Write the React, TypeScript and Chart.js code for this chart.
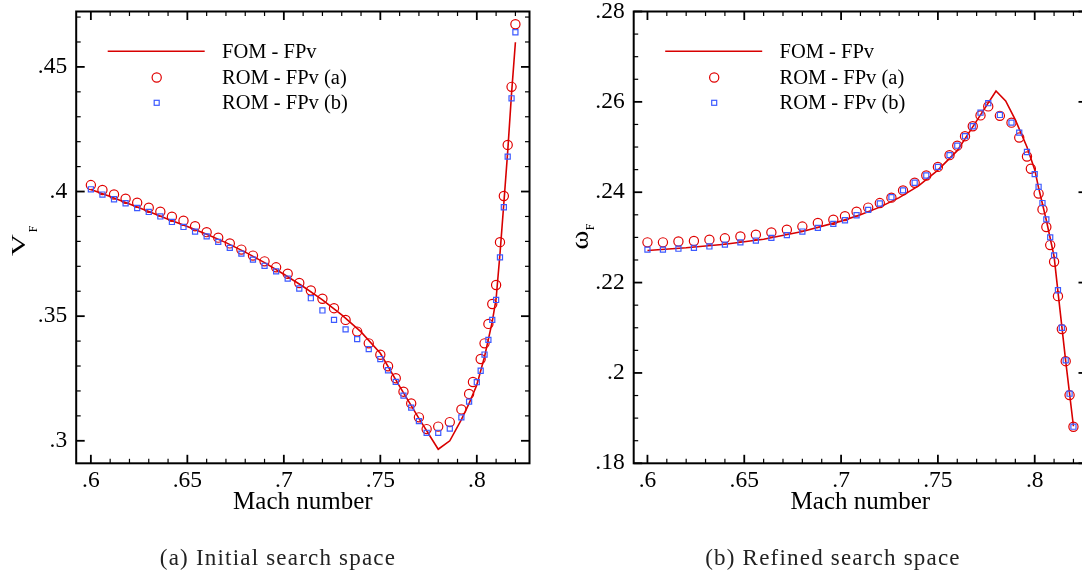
import React, { useEffect, useRef } from 'react';
import { Chart, registerables } from 'chart.js';

Chart.register(...registerables);

const FONT = '"Liberation Serif", "Times New Roman", serif';

// ---------- Panel (a): initial search space ----------
const machA_romA = [0.600, 0.606, 0.612, 0.618, 0.624, 0.630, 0.636, 0.642, 0.648, 0.654, 0.660, 0.666, 0.672, 0.678, 0.684, 0.690, 0.696, 0.702, 0.708, 0.714, 0.720, 0.726, 0.732, 0.738, 0.744, 0.750, 0.754, 0.758, 0.762, 0.766, 0.770, 0.774, 0.780, 0.786, 0.792, 0.796, 0.798, 0.802, 0.804, 0.806, 0.808, 0.810, 0.812, 0.814, 0.816, 0.818, 0.820];
const vfA_romA = [0.4026, 0.4006, 0.3988, 0.3971, 0.3955, 0.3935, 0.3919, 0.3899, 0.3883, 0.3861, 0.3837, 0.3815, 0.3792, 0.3767, 0.3743, 0.3720, 0.3696, 0.3670, 0.3633, 0.3603, 0.3570, 0.3532, 0.3485, 0.3438, 0.3391, 0.3345, 0.3299, 0.3251, 0.3197, 0.3150, 0.3094, 0.3047, 0.3057, 0.3075, 0.3126, 0.3188, 0.3236, 0.3328, 0.3391, 0.3469, 0.3549, 0.3625, 0.3797, 0.3982, 0.4187, 0.4420, 0.4671];

const machA_romB = [0.600, 0.606, 0.612, 0.618, 0.624, 0.630, 0.636, 0.642, 0.648, 0.654, 0.660, 0.666, 0.672, 0.678, 0.684, 0.690, 0.696, 0.702, 0.708, 0.714, 0.720, 0.726, 0.732, 0.738, 0.744, 0.750, 0.754, 0.758, 0.762, 0.766, 0.770, 0.774, 0.780, 0.786, 0.792, 0.796, 0.800, 0.802, 0.804, 0.806, 0.808, 0.810, 0.812, 0.814, 0.816, 0.818, 0.820];
const vfA_romB = [0.4009, 0.3988, 0.3969, 0.3953, 0.3934, 0.3918, 0.3900, 0.3878, 0.3858, 0.3839, 0.3820, 0.3798, 0.3774, 0.3751, 0.3727, 0.3702, 0.3680, 0.3651, 0.3611, 0.3572, 0.3523, 0.3485, 0.3447, 0.3408, 0.3368, 0.3328, 0.3283, 0.3236, 0.3181, 0.3133, 0.3079, 0.3032, 0.3032, 0.3049, 0.3094, 0.3157, 0.3235, 0.3281, 0.3346, 0.3405, 0.3485, 0.3565, 0.3736, 0.3937, 0.4140, 0.4374, 0.4639];

const machA_fom = [0.600, 0.610, 0.620, 0.630, 0.640, 0.650, 0.660, 0.670, 0.680, 0.690, 0.700, 0.710, 0.720, 0.730, 0.740, 0.750, 0.760, 0.770, 0.780, 0.786, 0.792, 0.796, 0.800, 0.804, 0.808, 0.810, 0.812, 0.814, 0.816, 0.818, 0.820];
const vfA_fom = [0.4008, 0.3980, 0.3950, 0.3920, 0.3889, 0.3860, 0.3829, 0.3795, 0.3757, 0.3715, 0.3668, 0.3619, 0.3565, 0.3505, 0.3437, 0.3351, 0.3218, 0.3090, 0.2966, 0.3000, 0.3085, 0.3150, 0.3224, 0.3337, 0.3478, 0.3570, 0.3750, 0.3953, 0.4160, 0.4394, 0.4599];

// ---------- Panel (b): refined search space ----------
const machB_romA = [0.600, 0.608, 0.616, 0.624, 0.632, 0.640, 0.648, 0.656, 0.664, 0.672, 0.680, 0.688, 0.696, 0.702, 0.708, 0.714, 0.720, 0.726, 0.732, 0.738, 0.744, 0.750, 0.756, 0.760, 0.764, 0.768, 0.772, 0.776, 0.782, 0.788, 0.792, 0.796, 0.798, 0.802, 0.804, 0.806, 0.808, 0.810, 0.812, 0.814, 0.816, 0.818, 0.820];
const omegaB_romA = [0.2289, 0.2289, 0.2291, 0.2292, 0.2295, 0.2298, 0.2302, 0.2306, 0.2311, 0.2317, 0.2324, 0.2332, 0.2339, 0.2347, 0.2357, 0.2366, 0.2376, 0.2388, 0.2404, 0.2421, 0.2437, 0.2456, 0.2482, 0.2503, 0.2524, 0.2546, 0.2570, 0.2590, 0.2569, 0.2554, 0.2521, 0.2479, 0.2452, 0.2397, 0.2362, 0.2323, 0.2283, 0.2246, 0.2170, 0.2097, 0.2026, 0.1951, 0.1881];

const machB_romB = [0.600, 0.608, 0.616, 0.624, 0.632, 0.640, 0.648, 0.656, 0.664, 0.672, 0.680, 0.688, 0.696, 0.702, 0.708, 0.714, 0.720, 0.726, 0.732, 0.738, 0.744, 0.750, 0.756, 0.760, 0.764, 0.768, 0.772, 0.776, 0.782, 0.788, 0.792, 0.796, 0.800, 0.802, 0.804, 0.806, 0.808, 0.810, 0.812, 0.814, 0.816, 0.818, 0.820];
const omegaB_romB = [0.2273, 0.2273, 0.2275, 0.2277, 0.2280, 0.2284, 0.2289, 0.2293, 0.2299, 0.2305, 0.2313, 0.2321, 0.2330, 0.2338, 0.2349, 0.2361, 0.2375, 0.2389, 0.2404, 0.2421, 0.2437, 0.2456, 0.2482, 0.2503, 0.2524, 0.2546, 0.2576, 0.2597, 0.2571, 0.2554, 0.2532, 0.2489, 0.2440, 0.2412, 0.2376, 0.2340, 0.2300, 0.2260, 0.2183, 0.2100, 0.2028, 0.1954, 0.1881];

const machB_fom = [0.600, 0.620, 0.640, 0.660, 0.680, 0.700, 0.710, 0.720, 0.730, 0.740, 0.750, 0.760, 0.770, 0.780, 0.785, 0.790, 0.796, 0.800, 0.802, 0.806, 0.810, 0.812, 0.816, 0.820];
const omegaB_fom = [0.2271, 0.2277, 0.2285, 0.2296, 0.2313, 0.2336, 0.2350, 0.2367, 0.2388, 0.2414, 0.2449, 0.2492, 0.2558, 0.2624, 0.2602, 0.2560, 0.2500, 0.2450, 0.2410, 0.2338, 0.2258, 0.2180, 0.2026, 0.1882];

const seriesLabels = ['FOM - FPv', 'ROM - FPv (a)', 'ROM - FPv (b)'];
const xAxisTitle = 'Mach number';
const captions = ['(a) Initial search space', '(b) Refined search space'];

const LINE_RED = '#d80000';
const MARK_RED = '#e00000';
const MARK_BLUE = '#3c5aff';

const fmtTick = (v: number) => String(+Number(v).toFixed(3)).replace(/^0\./, '.').replace(/^-0\./, '-.');

const toPts = (xs: number[], ys: number[]) => xs.map((x, i) => ({ x, y: ys[i] }));

type PanelSpec = {
  canvasLeft: number;
  canvasWidth: number;
  areaLeft: number;
  areaRight: number;
  areaTop: number;
  areaBottom: number;
  xMin: number; xMax: number; xStep: number; xMinor: number;
  yMin: number; yMax: number; yStep: number; yMinor: number;
  fomX: number[]; fomY: number[];
  aX: number[]; aY: number[];
  bX: number[]; bY: number[];
};

const CANVAS_H = 573;
const CIRCLE_R = 4.6;

function makeFramePlugin(spec: PanelSpec) {
  return {
    id: 'frameTicks',
    afterDraw(chart: any) {
      const { ctx, chartArea } = chart;
      const { left, right, top, bottom } = chartArea;
      const xs = chart.scales.x;
      const ys = chart.scales.y;
      ctx.save();
      ctx.strokeStyle = '#000';
      const seg = (x1: number, y1: number, x2: number, y2: number) => {
        ctx.beginPath(); ctx.moveTo(x1, y1); ctx.lineTo(x2, y2); ctx.stroke();
      };
      const isMajor = (v: number, step: number) => Math.abs(v / step - Math.round(v / step)) < 1e-6;
      for (let k = Math.ceil(spec.xMin / spec.xMinor - 1e-9); k * spec.xMinor <= spec.xMax + 1e-9; k++) {
        const v = k * spec.xMinor;
        const major = isMajor(v, spec.xStep);
        const len = major ? 8.5 : 4.5;
        ctx.lineWidth = major ? 1.8 : 1.2;
        const px = xs.getPixelForValue(v);
        seg(px, bottom, px, bottom - len);
        seg(px, top, px, top + len);
      }
      for (let k = Math.ceil(spec.yMin / spec.yMinor - 1e-9); k * spec.yMinor <= spec.yMax + 1e-9; k++) {
        const v = k * spec.yMinor;
        const major = isMajor(v, spec.yStep);
        const len = major ? 8.5 : 4.5;
        ctx.lineWidth = major ? 1.8 : 1.2;
        const py = ys.getPixelForValue(v);
        seg(left, py, left + len, py);
        seg(right, py, right - len, py);
      }
      ctx.lineWidth = 2;
      ctx.strokeRect(left, top, right - left, bottom - top);
      ctx.restore();
    },
  };
}

const legendPlugin = {
  id: 'insideLegend',
  afterDraw(chart: any) {
    const { ctx, chartArea } = chart;
    const L = chartArea.left;
    const T = chartArea.top;
    const rows = [39.7, 66, 91.3];
    ctx.save();
    ctx.strokeStyle = LINE_RED;
    ctx.lineWidth = 1.5;
    ctx.beginPath();
    ctx.moveTo(L + 31.5, T + rows[0]);
    ctx.lineTo(L + 128.5, T + rows[0]);
    ctx.stroke();
    ctx.strokeStyle = MARK_RED;
    ctx.lineWidth = 1.2;
    ctx.beginPath();
    ctx.arc(L + 80.5, T + rows[1], CIRCLE_R, 0, Math.PI * 2);
    ctx.stroke();
    ctx.strokeStyle = MARK_BLUE;
    ctx.lineWidth = 1.2;
    ctx.strokeRect(L + 80.5 - 2.5, T + rows[2] - 2.5, 5, 5);
    ctx.fillStyle = '#000';
    ctx.font = `20.5px ${FONT}`;
    ctx.textAlign = 'left';
    ctx.textBaseline = 'middle';
    seriesLabels.forEach((t, i) => ctx.fillText(t, L + 145.8, T + rows[i] + 1));
    ctx.restore();
  },
};

function Panel({ spec }: { spec: PanelSpec }) {
  const ref = useRef<HTMLCanvasElement | null>(null);
  useEffect(() => {
    if (!ref.current) return;
    const chart = new Chart(ref.current, {
      type: 'scatter',
      data: {
        datasets: [
          {
            label: seriesLabels[0],
            data: toPts(spec.fomX, spec.fomY),
            showLine: true,
            borderColor: LINE_RED,
            backgroundColor: LINE_RED,
            borderWidth: 1.6,
            pointRadius: 0,
            tension: 0,
            order: 3,
          } as any,
          {
            label: seriesLabels[1],
            data: toPts(spec.aX, spec.aY),
            pointStyle: 'circle',
            pointRadius: CIRCLE_R,
            borderWidth: 1.2,
            borderColor: MARK_RED,
            backgroundColor: 'rgba(0,0,0,0)',
            order: 2,
          },
          {
            label: seriesLabels[2],
            data: toPts(spec.bX, spec.bY),
            pointStyle: 'rect',
            pointRadius: 3.6,
            borderWidth: 1.2,
            borderColor: MARK_BLUE,
            backgroundColor: 'rgba(0,0,0,0)',
            order: 1,
          },
        ],
      },
      options: {
        animation: false,
        responsive: false,
        maintainAspectRatio: false,
        devicePixelRatio: 1,
        layout: {
          padding: {
            left: 0,
            top: spec.areaTop,
            right: spec.canvasWidth - spec.areaRight,
            bottom: 0,
          },
        },
        plugins: {
          legend: { display: false },
          tooltip: { enabled: false },
          title: { display: false },
        },
        scales: {
          x: {
            type: 'linear',
            position: 'bottom',
            min: spec.xMin,
            max: spec.xMax,
            grid: { display: false, drawTicks: false },
            border: { display: false },
            ticks: {
              stepSize: spec.xStep,
              includeBounds: false,
              autoSkip: false,
              maxRotation: 0,
              padding: 3.5,
              color: '#000',
              font: { family: FONT, size: 23.5 },
              callback: (v: any) => fmtTick(v),
            },
            title: {
              display: true,
              text: xAxisTitle,
              color: '#000',
              font: { family: FONT, size: 25 },
              padding: { top: 0, bottom: 55.5 },
            },
            afterFit: (s: any) => {
              s.height = CANVAS_H - spec.areaBottom;
              s.paddingLeft = 0;
              s.paddingRight = 0;
            },
          },
          y: {
            type: 'linear',
            position: 'left',
            min: spec.yMin,
            max: spec.yMax,
            grid: { display: false, drawTicks: false },
            border: { display: false },
            ticks: {
              stepSize: spec.yStep,
              includeBounds: false,
              autoSkip: false,
              padding: 9,
              color: '#000',
              font: { family: FONT, size: 23.5 },
              callback: (v: any) => fmtTick(v),
            },
            afterFit: (s: any) => {
              s.width = spec.areaLeft;
              s.paddingTop = 0;
              s.paddingBottom = 0;
            },
          },
        },
      } as any,
      plugins: [makeFramePlugin(spec), legendPlugin],
    });
    return () => chart.destroy();
  }, [spec]);
  return (
    <canvas
      ref={ref}
      width={spec.canvasWidth}
      height={CANVAS_H}
      style={{ position: 'absolute', left: spec.canvasLeft, top: 0, width: spec.canvasWidth, height: CANVAS_H }}
    />
  );
}

const specA: PanelSpec = {
  canvasLeft: 0,
  canvasWidth: 540,
  areaLeft: 76.2,
  areaRight: 529.5,
  areaTop: 11.5,
  areaBottom: 463.3,
  xMin: 0.5924, xMax: 0.8273, xStep: 0.05, xMinor: 0.01,
  yMin: 0.29097, yMax: 0.47223, yStep: 0.05, yMinor: 0.01,
  fomX: machA_fom, fomY: vfA_fom,
  aX: machA_romA, aY: vfA_romA,
  bX: machA_romB, bY: vfA_romB,
};

const specB: PanelSpec = {
  canvasLeft: 540,
  canvasWidth: 580,
  areaLeft: 93.7,
  areaRight: 547,
  areaTop: 11.5,
  areaBottom: 463.3,
  xMin: 0.5929, xMax: 0.8270, xStep: 0.05, xMinor: 0.01,
  yMin: 0.18, yMax: 0.28, yStep: 0.02, yMinor: 0.005,
  fomX: machB_fom, fomY: omegaB_fom,
  aX: machB_romA, aY: omegaB_romA,
  bX: machB_romB, bY: omegaB_romB,
};

const rotStyle = (cx: number, cy: number, size: number, sx: number): React.CSSProperties => ({
  position: 'absolute',
  left: cx,
  top: cy,
  fontFamily: FONT,
  fontSize: size,
  lineHeight: 1,
  color: '#000',
  whiteSpace: 'nowrap',
  transform: `translate(-50%, -50%) rotate(-90deg) scaleX(${sx})`,
});

const captionStyle = (cx: number): React.CSSProperties => ({
  position: 'absolute',
  left: cx,
  top: 557,
  transform: 'translate(-50%, -50%)',
  fontFamily: FONT,
  fontSize: 23,
  letterSpacing: 1.2,
  lineHeight: 1,
  color: '#222',
  whiteSpace: 'nowrap',
});

export default function App() {
  return (
    <div style={{ position: 'fixed', left: 0, top: 0, width: 1082, height: 573, overflow: 'hidden', background: '#fff' }}>
      <Panel spec={specA} />
      <Panel spec={specB} />
      <div style={rotStyle(17.5, 245, 19, 1.6)}>V</div>
      <div style={rotStyle(32.5, 228.5, 12, 1)}>F</div>
      <div style={rotStyle(579.6, 240, 26, 1.1)}>ω</div>
      <div style={rotStyle(590, 226.5, 12, 1)}>F</div>
      <div style={captionStyle(278)}>{captions[0]}</div>
      <div style={captionStyle(833)}>{captions[1]}</div>
    </div>
  );
}
